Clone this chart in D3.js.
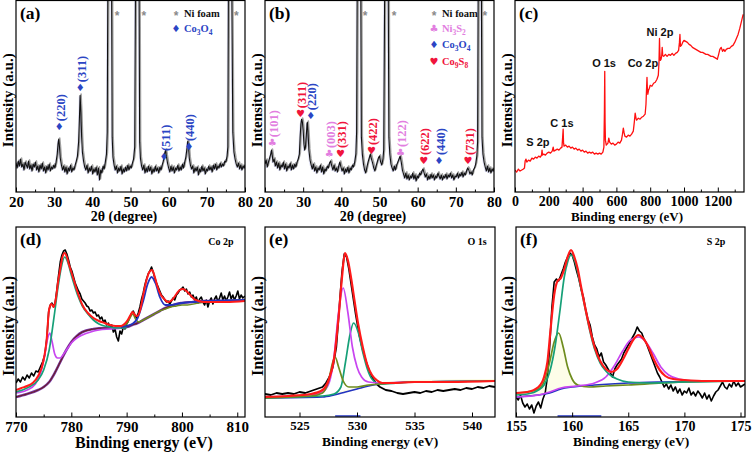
<!DOCTYPE html>
<html><head><meta charset="utf-8">
<script src="https://cdn.jsdelivr.net/npm/d3@7"></script>
<style>
body{margin:0;background:#fff}svg{display:block}
text{font-family:"Liberation Serif","Times New Roman","DejaVu Serif",serif;font-weight:bold}
text.sans{font-family:"Liberation Sans",Arial,"DejaVu Sans",sans-serif}
text.sym{font-family:"DejaVu Sans",sans-serif;font-weight:normal}
</style>
</head><body>
<svg id="c" width="756" height="453"></svg>
<script>
// ---------------- DATA ----------------
// (a) XRD of Co3O4 on Ni foam: [2theta, intensity a.u.]
const xrdA = [[20.0,29],[20.3,24],[20.6,31],[20.9,26],[21.2,33],[21.5,25],[21.8,28],[22.1,22],[22.4,30],[22.7,27],[23.0,24],[23.3,31],[23.6,23],[23.9,27],[24.2,21],[24.5,28],[24.8,25],[25.1,30],[25.4,22],[25.7,26],[26.0,20],[26.3,27],[26.6,23],[26.9,29],[27.2,21],[27.5,25],[27.8,19],[28.1,26],[28.4,22],[28.7,28],[29.0,21],[29.3,25],[29.6,23],[29.9,27],[30.2,24],[30.5,30],[30.8,38],[31.0,48],[31.2,53],[31.4,45],[31.6,34],[31.9,27],[32.2,22],[32.5,26],[32.8,20],[33.1,25],[33.4,18],[33.7,24],[34.0,21],[34.3,27],[34.6,20],[34.9,24],[35.2,22],[35.5,27],[35.8,31],[36.1,36],[36.4,50],[36.6,72],[36.8,97],[37.0,80],[37.2,55],[37.4,40],[37.7,31],[38.0,25],[38.3,22],[38.6,27],[38.9,19],[39.2,24],[39.5,21],[39.8,26],[40.1,18],[40.4,23],[40.7,20],[41.0,25],[41.3,17],[41.6,24],[41.9,12],[42.2,22],[42.5,19],[42.8,26],[43.1,23],[43.4,30],[43.7,38],[43.9,60],[44.05,200],[44.5,260],[45.05,200],[45.2,55],[45.4,35],[45.7,27],[46.0,22],[46.3,26],[46.6,19],[46.9,24],[47.2,21],[47.5,26],[47.8,18],[48.1,23],[48.4,20],[48.7,25],[49.0,21],[49.3,27],[49.6,22],[49.9,26],[50.2,24],[50.5,29],[50.8,33],[51.1,45],[51.3,200],[51.8,260],[52.25,200],[52.4,50],[52.6,34],[52.9,26],[53.2,22],[53.5,27],[53.8,19],[54.1,24],[54.4,20],[54.7,26],[55.0,21],[55.3,25],[55.6,18],[55.9,23],[56.2,20],[56.5,26],[56.8,21],[57.1,24],[57.4,19],[57.7,25],[58.0,22],[58.3,27],[58.6,31],[58.9,38],[59.2,42],[59.4,36],[59.7,29],[60.0,24],[60.3,20],[60.6,26],[60.9,21],[61.2,25],[61.5,19],[61.8,24],[62.1,22],[62.4,27],[62.7,21],[63.0,25],[63.3,22],[63.6,28],[63.9,24],[64.2,30],[64.5,35],[64.8,44],[65.0,51],[65.2,45],[65.4,34],[65.7,27],[66.0,23],[66.3,26],[66.6,19],[66.9,24],[67.2,21],[67.5,25],[67.8,17],[68.1,23],[68.4,20],[68.7,26],[69.0,21],[69.3,24],[69.6,18],[69.9,23],[70.2,21],[70.5,26],[70.8,22],[71.1,25],[71.4,20],[71.7,27],[72.0,23],[72.3,28],[72.6,22],[72.9,26],[73.2,24],[73.5,29],[73.8,25],[74.1,28],[74.4,26],[74.7,31],[75.0,30],[75.3,36],[75.5,45],[75.65,200],[76.4,260],[76.55,200],[76.8,60],[77.1,40],[77.4,33],[77.7,28],[78.0,25],[78.3,29],[78.6,23],[78.9,27],[79.2,22],[79.5,26],[79.8,24],[80.0,27]];
// (b) XRD after sulfidation
const xrdB = [[20.0,28],[20.3,32],[20.6,25],[20.9,30],[21.2,34],[21.5,38],[21.7,42],[21.9,37],[22.1,30],[22.4,33],[22.7,26],[23.0,30],[23.3,24],[23.6,29],[23.9,22],[24.2,27],[24.5,25],[24.8,30],[25.1,23],[25.4,28],[25.7,21],[26.0,26],[26.3,24],[26.6,29],[26.9,22],[27.2,27],[27.5,23],[27.8,28],[28.1,25],[28.4,30],[28.7,33],[29.0,38],[29.2,55],[29.4,68],[29.6,73],[29.8,70],[30.0,62],[30.2,48],[30.4,42],[30.6,45],[30.8,55],[31.0,68],[31.1,70],[31.3,58],[31.5,42],[31.8,32],[32.1,27],[32.4,23],[32.7,28],[33.0,21],[33.3,25],[33.6,19],[33.9,24],[34.2,22],[34.5,27],[34.8,20],[35.1,25],[35.4,18],[35.7,23],[36.0,21],[36.3,26],[36.6,24],[36.9,29],[37.2,31],[37.5,26],[37.8,22],[38.1,27],[38.4,21],[38.7,24],[39.0,20],[39.3,26],[39.6,30],[39.9,25],[40.2,21],[40.5,24],[40.8,18],[41.1,23],[41.4,20],[41.7,25],[42.0,19],[42.3,24],[42.6,22],[42.9,27],[43.2,25],[43.5,30],[43.8,38],[44.0,60],[44.15,200],[44.6,260],[45.1,200],[45.25,55],[45.5,38],[45.8,28],[46.1,22],[46.4,19],[46.7,25],[47.0,30],[47.3,34],[47.6,38],[47.9,33],[48.2,29],[48.5,24],[48.8,21],[49.1,26],[49.4,30],[49.7,34],[50.0,36],[50.3,30],[50.6,27],[50.9,33],[51.1,42],[51.35,200],[51.8,260],[52.3,200],[52.45,55],[52.7,38],[53.0,28],[53.3,24],[53.6,21],[53.9,26],[54.2,22],[54.5,27],[54.8,30],[55.1,33],[55.4,36],[55.7,30],[56.0,22],[56.3,18],[56.6,14],[56.9,19],[57.2,13],[57.5,17],[57.8,12],[58.1,16],[58.4,14],[58.7,19],[59.0,13],[59.3,17],[59.6,11],[59.9,16],[60.2,14],[60.5,19],[60.8,17],[61.1,21],[61.4,23],[61.7,19],[62.0,15],[62.3,18],[62.6,12],[62.9,16],[63.2,13],[63.5,18],[63.8,14],[64.1,17],[64.4,12],[64.7,16],[65.0,14],[65.3,19],[65.6,16],[65.9,13],[66.2,17],[66.5,12],[66.8,16],[67.1,14],[67.4,18],[67.7,13],[68.0,17],[68.3,15],[68.6,19],[68.9,14],[69.2,17],[69.5,12],[69.8,16],[70.1,15],[70.4,19],[70.7,14],[71.0,18],[71.3,16],[71.6,20],[71.9,15],[72.2,19],[72.5,17],[72.8,21],[73.1,24],[73.4,22],[73.7,18],[74.0,20],[74.3,17],[74.6,22],[74.9,24],[75.2,28],[75.5,36],[75.7,50],[75.85,200],[76.3,260],[76.7,200],[76.85,55],[77.1,38],[77.4,30],[77.7,25],[78.0,21],[78.3,26],[78.6,20],[78.9,24],[79.2,19],[79.5,23],[79.8,21],[80.0,24]];
const xrdTicks = [20,30,40,50,60,70,80];
const xrdMinor = [25,35,45,55,65,75];
const peaksA = [["(220)",31.3,66,"Co3O4"],["(311)",36.8,105,"Co3O4"],["(511)",58.8,36,"Co3O4"],["(440)",65.3,46,"Co3O4"]];
const peaksB = [["(101)",21.9,50,"Ni3S2"],["(311)",29.3,79,"Co9S8"],["(220)",32.0,77,"Co3O4"],["(003)",36.8,39,"Ni3S2"],["(331)",39.8,39,"Co9S8"],["(422)",47.9,42,"Co9S8"],["(122)",55.5,40,"Ni3S2"],["(622)",61.6,32,"Co9S8"],["(440)",65.6,32,"Co3O4"],["(731)",73.2,32,"Co9S8"]];
const niStarsA = [46.5,53.5,77.7];
const niStarsB = [46.2,53.8,77.6];
const legendA = ["Ni","Co3O4"];
const legendB = ["Ni","Ni3S2","Co3O4","Co9S8"];

// (c) XPS survey: [binding energy eV, intensity]
const survey = [[0,22],[10,20],[20,23],[30,21],[40,22],[50,23],[56,24],[60,31],[65,33],[70,30],[80,32],[90,31],[100,34],[110,33],[120,35],[130,34],[140,36],[150,35],[157,37],[160,42],[163,37],[170,38],[180,37],[190,39],[200,40],[210,39],[220,41],[226,45],[230,41],[240,42],[250,43],[260,42],[270,44],[278,45],[282,55],[285,63],[287,50],[290,46],[300,47],[310,45],[320,46],[330,44],[340,45],[350,43],[360,44],[370,42],[380,43],[390,41],[400,42],[410,40],[420,41],[430,39],[440,40],[450,39],[460,40],[470,38],[480,39],[490,38],[500,39],[510,38],[520,40],[526,45],[529,80],[531,121],[533,70],[535,52],[540,47],[550,49],[555,54],[560,50],[570,48],[580,49],[590,47],[600,48],[610,50],[620,49],[630,52],[636,58],[641,64],[645,60],[650,56],[660,55],[670,57],[680,56],[690,58],[700,61],[706,70],[711,79],[716,74],[720,72],[730,74],[740,73],[750,75],[760,76],[770,78],[775,88],[779,106],[781,115],[783,105],[786,98],[790,102],[795,104],[800,107],[810,106],[820,109],[830,110],[840,113],[848,117],[852,130],[855,154],[857,140],[860,132],[864,133],[868,136],[871,145],[874,137],[880,136],[890,138],[900,136],[910,138],[920,137],[930,139],[940,137],[950,139],[960,140],[968,142],[973,150],[976,158],[979,146],[985,147],[992,150],[1000,152],[1010,151],[1020,150],[1030,148],[1040,147],[1050,145],[1060,144],[1070,143],[1080,142],[1090,141],[1100,140],[1110,140],[1120,139],[1130,138],[1140,138],[1150,137],[1160,136],[1170,136],[1180,135],[1190,134],[1197,133],[1205,138],[1212,143],[1220,145],[1228,141],[1235,143],[1242,141],[1250,143],[1260,144],[1270,144],[1280,146],[1290,147],[1300,150],[1310,154],[1320,158],[1330,164],[1340,171],[1350,178]];
const surveyTicks = [0,200,400,600,800,1000,1200];
const surveyMinor = [100,300,500,700,900,1100,1300];
const surveyLabels = [["S 2p",136,50],["C 1s",278,69],["O 1s",527,129],["Co 2p",757,129],["Ni 2p",858,160]];

// (d) Co 2p
const co2pRaw = [[770.0,34],[770.4,38],[770.8,35],[771.2,40],[771.6,37],[772.0,42],[772.4,39],[772.8,44],[773.2,41],[773.6,46],[774.0,45],[774.4,50],[774.8,55],[775.2,62],[775.6,80],[775.9,105],[776.2,112],[776.5,114],[776.8,110],[777.1,115],[777.4,128],[777.7,142],[778.0,155],[778.3,162],[778.6,166],[778.9,167],[779.2,163],[779.5,157],[779.8,150],[780.1,146],[780.4,140],[780.7,134],[781.0,130],[781.3,126],[781.6,123],[781.9,118],[782.2,116],[782.5,114],[782.8,111],[783.1,110],[783.4,106],[783.7,107],[784.0,104],[784.3,105],[784.6,101],[784.9,102],[785.2,98],[785.5,100],[785.8,95],[786.1,97],[786.4,92],[786.7,94],[787.0,89],[787.3,92],[787.6,85],[787.9,88],[788.2,80],[788.5,76],[788.8,86],[789.1,83],[789.4,90],[789.7,88],[790.0,93],[790.3,96],[790.6,100],[790.9,104],[791.2,106],[791.5,102],[791.8,99],[792.1,104],[792.4,110],[792.7,118],[793.0,124],[793.3,132],[793.6,138],[793.9,143],[794.2,146],[794.5,150],[794.8,145],[795.1,139],[795.4,134],[795.7,130],[796.0,126],[796.3,122],[796.6,120],[796.9,117],[797.2,115],[797.5,116],[797.8,113],[798.1,116],[798.4,119],[798.7,117],[799.0,122],[799.3,124],[799.6,127],[799.9,128],[800.2,130],[800.5,126],[800.8,128],[801.1,123],[801.4,125],[801.7,120],[802.0,122],[802.3,117],[802.6,120],[802.9,114],[803.2,118],[803.5,120],[803.8,115],[804.1,112],[804.4,117],[804.7,110],[805.0,116],[805.3,119],[805.6,113],[805.9,118],[806.2,121],[806.5,115],[806.8,119],[807.1,124],[807.4,117],[807.7,121],[808.0,116],[808.3,120],[808.6,125],[808.9,118],[809.2,122],[809.5,117],[809.8,121],[810.1,126],[810.4,118],[810.7,122],[811.0,119],[811.4,121]];
const co2pFit = [[770,27],[771,29],[772,31],[773,34],[774,41],[775,57],[775.5,75],[776.0,108],[776.4,113],[776.8,110],[777.2,118],[777.6,135],[778.0,148],[778.4,160],[778.8,164],[779.2,160],[779.6,152],[780.0,145],[780.5,136],[781.0,127],[781.5,119],[782.0,112],[783.0,104],[784.0,99],[785.0,96],[786.0,94],[787.0,92],[788.0,91],[789.0,91],[789.6,93],[790.2,97],[790.7,102],[791.1,105],[791.5,102],[791.9,101],[792.4,106],[793.0,122],[793.6,137],[794.1,145],[794.6,147],[795.1,140],[795.6,130],[796.2,122],[796.8,118],[797.5,115],[798.2,117],[799.0,123],[799.6,127],[800.2,128],[800.8,126],[801.5,122],[802.2,118],[803.0,116],[804.0,115],[806.0,115],[808.0,115],[811.4,116]];
const co2pMain = [[770,25],[772,29],[774,37],[775,47],[776,67],[777,105],[777.6,130],[778.2,150],[778.8,160],[779.4,154],[780.0,142],[780.6,131],[781.2,121],[782.0,111],[783.0,103],[784.0,97],[785.0,93],[786.0,91],[787.0,90],[788.0,89],[789.0,89],[790.0,89]];
const co2pLow = [[770,24],[772,27],[773.5,33],[774.5,45],[775.2,62],[775.7,78],[776.1,84],[776.5,76],[777.0,63],[777.5,59],[778.0,59],[778.5,62],[779.0,66],[779.5,70],[780.0,74],[781.0,79],[782.0,82],[783.5,85],[785.0,87],[787.0,88],[789.0,89]];
const co2pBg = [[770,20],[772,23],[774,27],[775,30],[776,35],[777,44],[778,55],[779,66],[780,75],[781,81],[782,85],[784,88],[786,89],[788,89],[790,90],[791,92],[792,94],[793,97],[794,100],[795,103],[796,106],[797,109],[798,111],[799,113],[800,114],[802,115],[804,116],[807,116],[811.4,117]];
const co2pHigh = [[789,90],[790,91],[791,93],[792,99],[793,116],[793.8,133],[794.5,140],[795.2,134],[796,120],[797,112],[798,112],[799,113],[800,114],[802,115],[805,116],[811.4,117]];
const co2pSat = [[789,90],[790,93],[790.7,100],[791.1,103],[791.6,98],[792.2,95],[793,97],[794,100],[795,103],[796,106],[797,108],[798,110],[799,111],[800,112],[801,112],[803,114],[806,116],[811.4,117]];
const co2pTicks = [770,780,790,800,810];
const co2pMinor = [775,785,795,805];

// (e) O 1s
const o1sRaw = [[521.6,22],[522,23],[522.5,22],[523,24],[523.5,23],[524,24],[524.5,23],[525,25],[525.5,24],[526,26],[526.5,28],[527,30],[527.3,34],[527.6,40],[527.9,50],[528.2,70],[528.5,115],[528.7,145],[528.9,163],[529.1,160],[529.3,148],[529.6,125],[529.9,102],[530.2,82],[530.5,67],[530.8,55],[531.1,45],[531.4,38],[531.7,33],[532.0,30],[532.5,27],[533,26],[533.5,24],[534,23],[534.5,24],[535,25],[535.5,24],[536,26],[536.5,25],[537,27],[537.5,26],[538,27],[538.5,28],[539,27],[539.5,29],[540,28],[540.5,30],[541,29],[541.5,31],[542,30]];
const o1sFit = [[521.6,20],[524,21],[526,23],[527,27],[527.5,36],[528,58],[528.4,100],[528.7,140],[528.95,164],[529.2,157],[529.5,138],[529.8,115],[530.1,93],[530.5,70],[530.9,52],[531.3,42],[531.7,37],[532.2,34],[533,34],[535,35],[538,35],[542,36]];
const o1sLattice = [[521.6,19],[526,21],[527,24],[527.5,35],[527.9,55],[528.1,60],[528.4,50],[528.8,36],[529.3,30],[530,30],[531,32],[532,33],[535,35],[542,36]];
const o1sMid = [[521.6,20],[526,22],[527,25],[527.6,35],[528.0,60],[528.4,105],[528.8,129],[529.2,105],[529.6,70],[530.0,50],[530.4,40],[531,35],[532,34],[535,35],[542,36]];
const o1sHigh = [[521.6,19],[527,21],[528,23],[528.6,30],[529.0,55],[529.4,83],[529.7,94],[530.1,85],[530.5,65],[530.9,48],[531.3,38],[532,33],[535,35],[542,36]];
const o1sBg = [[521.6,19],[527,20],[528,22],[529,25],[530,28],[531,31],[532,33],[535,35],[542,36]];
const o1sFloor = [[528.1,1],[530.3,1]];
const o1sTicks = [525,530,535,540];

// (f) S 2p
const s2pRaw = [[155.0,20],[155.2,17],[155.4,22],[155.6,14],[155.8,10],[156.0,13],[156.2,8],[156.4,12],[156.6,4],[156.8,11],[157.0,15],[157.2,9],[157.4,18],[157.6,24],[157.8,40],[158.0,70],[158.2,110],[158.4,135],[158.6,138],[158.8,136],[159.0,142],[159.2,148],[159.4,155],[159.6,160],[159.8,164],[160.0,162],[160.2,155],[160.4,146],[160.6,138],[160.8,128],[161.0,120],[161.2,108],[161.4,98],[161.6,92],[161.8,80],[162.0,72],[162.2,68],[162.4,60],[162.6,64],[162.8,55],[163.0,52],[163.2,48],[163.4,44],[163.6,40],[163.8,48],[164.0,52],[164.2,55],[164.4,58],[164.6,64],[164.8,68],[165.0,72],[165.2,76],[165.4,80],[165.6,84],[165.8,90],[166.0,86],[166.2,84],[166.4,78],[166.6,74],[166.8,68],[167.0,62],[167.2,56],[167.4,50],[167.6,44],[167.8,40],[168.0,35],[168.2,30],[168.4,33],[168.6,28],[168.8,32],[169.0,26],[169.2,30],[169.4,24],[169.6,28],[169.8,22],[170.0,26],[170.2,24],[170.4,29],[170.6,22],[170.8,25],[171.0,21],[171.2,26],[171.4,23],[171.6,19],[171.8,24],[172.0,18],[172.2,22],[172.4,16],[172.6,21],[172.8,25],[173.0,27],[173.2,31],[173.4,35],[173.6,30],[173.8,28],[174.0,33],[174.2,30],[174.4,36],[174.6,31],[174.8,34],[175.0,30],[175.4,33]];
const s2pFit = [[155,24],[156,25],[157,30],[157.5,40],[157.8,55],[158.1,90],[158.4,122],[158.7,136],[159.0,139],[159.3,148],[159.6,160],[159.9,167],[160.2,160],[160.5,148],[160.8,130],[161.1,113],[161.5,92],[162.0,70],[162.5,56],[163.0,48],[163.5,45],[164.0,48],[164.5,57],[165.0,68],[165.5,78],[165.9,82],[166.3,79],[166.8,70],[167.3,57],[167.8,47],[168.3,41],[169,38],[170,37],[172,36],[175.4,36]];
const s2pMain = [[155,22],[156,23],[157,27],[157.5,32],[158,45],[158.5,72],[158.9,105],[159.3,140],[159.6,155],[159.9,162],[160.2,157],[160.5,145],[160.8,128],[161.1,112],[161.5,90],[162.0,68],[162.5,54],[163.0,46],[163.5,41],[164.0,38],[165,35],[167,34],[170,35],[175.4,36]];
const s2pLow = [[155,24],[156,25],[157,28],[157.6,38],[158.0,55],[158.4,75],[158.8,84],[159.2,70],[159.6,50],[160.0,38],[160.5,32],[161.5,30],[163,31],[165,32],[168,34],[175.4,36]];
const s2pHigh = [[155,20],[157,22],[158,25],[159,29],[160.5,31],[162,34],[163,40],[163.8,52],[164.5,66],[165.2,77],[165.9,80],[166.5,76],[167.2,64],[167.9,50],[168.6,42],[169.5,38],[171,36],[175.4,36]];
const s2pBg = [[155,20],[156,21],[157,22],[158,24],[159,28],[160,30],[162,32],[165,34],[168,35],[175.4,36]];
const s2pFloor = [[158.7,1],[162.6,1]];
const s2pTicks = [155,160,165,170,175];

// ---------------- DRAWING ----------------
const svg = d3.select("#c");
const phase = {
  Ni:{glyph:"*",color:"#8a8a8a",name:[["Ni foam",0]],black:true},
  Ni3S2:{glyph:"\u2663",color:"#e27ee0",name:[["Ni",0],["3",1],["S",0],["2",1]]},
  Co3O4:{glyph:"\u2666",color:"#2b45c4",name:[["Co",0],["3",1],["O",0],["4",1]]},
  Co9S8:{glyph:"\u2665",color:"#f0143c",name:[["Co",0],["9",1],["S",0],["8",1]]}
};

function panel(o){
  const x = d3.scaleLinear().domain(o.xd).range([o.l,o.r]);
  const y = d3.scaleLinear().domain(o.yd).range([o.b,o.t]);
  const g = svg.append("g");
  const cid = "clip_"+o.id;
  svg.append("clipPath").attr("id",cid).append("rect")
    .attr("x",o.l).attr("y",o.t).attr("width",o.r-o.l).attr("height",o.b-o.t);
  const plot = g.append("g").attr("clip-path",`url(#${cid})`);
  if(o.minor){
    g.append("g").attr("transform",`translate(0,${o.b})`)
      .call(d3.axisBottom(x).tickValues(o.minor).tickSize(-2.5).tickFormat(""))
      .call(a=>a.select(".domain").remove());
  }
  g.append("g").attr("transform",`translate(0,${o.b})`)
    .call(d3.axisBottom(x).tickValues(o.ticks).tickSize(-4.5).tickPadding(o.pad||4).tickFormat(d3.format("d")))
    .call(a=>{a.select(".domain").remove();
      a.selectAll("text").style("font-size",o.tfs+"px").attr("fill","#000");});
  g.append("rect").attr("x",o.l).attr("y",o.t).attr("width",o.r-o.l).attr("height",o.b-o.t)
    .attr("fill","none").attr("stroke","#000").attr("stroke-width",1.2);
  g.append("text").attr("x",o.xtx).attr("y",o.xty).attr("text-anchor","middle")
    .style("font-size",o.xfs+"px").text(o.xtitle);
  g.append("text").attr("transform",`translate(${o.ytx},${(o.t+o.b)/2+4}) rotate(-90)`)
    .attr("text-anchor","middle").attr("dominant-baseline","central")
    .style("font-size",(o.yfs||16)+"px").text("Intensity (a.u.)");
  g.append("text").attr("x",o.l+4).attr("y",o.t+18).style("font-size","17.5px").text(o.tag);
  const line = (data,color,w,curve)=>plot.append("path").datum(data)
    .attr("d",d3.line().x(d=>x(d[0])).y(d=>y(d[1])).curve(curve||d3.curveLinear))
    .attr("fill","none").attr("stroke",color).attr("stroke-width",w).attr("stroke-linejoin","round");
  return {x,y,g,plot,line};
}

function formula(sel, parts, fs){
  parts.forEach((p,i)=>{
    const t = sel.append("tspan").text(p[0]);
    if(p[1]){ t.style("font-size",(fs*0.68)+"px").attr("dy",3); }
    else if(i>0 && parts[i-1][1]){ t.attr("dy",-3); }
  });
}

function xrdPanel(o, data, peaks, stars, legend){
  const P = panel(o);
  P.line(data,"#a0a0a0",1.5).attr("transform","translate(1,-1.2)");
  P.line(data,"#6f74c8",0.6).attr("transform","translate(-0.8,1)").attr("opacity",0.4);
  P.line(data,"#111",1.1);
  stars.forEach(s=>{
    P.g.append("text").attr("class","sans").attr("x",P.x(s)).attr("y",P.y(172)).attr("text-anchor","middle")
      .style("font-size","12px").attr("fill","#8a8a8a").text("*");
  });
  peaks.forEach(p=>{
    const ph = phase[p[3]];
    const px = P.x(p[1]), py = P.y(p[2]);
    P.g.append("text").attr("class","sym").attr("x",px).attr("y",py).attr("text-anchor","middle").attr("dominant-baseline","central")
      .style("font-size","10px").attr("fill",ph.color).text(ph.glyph);
    P.g.append("text").attr("transform",`translate(${px+1.5},${py-5}) rotate(-90)`)
      .attr("text-anchor","start").attr("dominant-baseline","central")
      .style("font-size","12.5px").attr("fill",ph.color).text(p[0]);
  });
  legend.forEach((k,i)=>{
    const ph = phase[k];
    const ly = o.legY[i];
    P.g.append("text").attr("class",k==="Ni"?"sans":"sym").attr("x",o.legX).attr("y",ly).attr("text-anchor","middle").attr("dominant-baseline","central")
      .style("font-size",(k==="Ni"?12:10)+"px").attr("dy",k==="Ni"?3:0).attr("fill",ph.color).text(ph.glyph);
    const t = P.g.append("text").attr("x",o.legX+8).attr("y",ly+4)
      .style("font-size","10.5px").attr("fill",ph.black?"#111":ph.color);
    formula(t, ph.name, 11);
  });
  return P;
}

// (a)
xrdPanel({id:"a",l:16,r:245,t:0.5,b:192,xd:[20,80],yd:[0,192],ticks:xrdTicks,minor:xrdMinor,tfs:15,
  xtitle:"2\u03b8 (degree)",xtx:124,xty:221,xfs:14,ytx:8,yfs:15,tag:"(a)",legX:176,legY:[13,28]},
  xrdA,peaksA,niStarsA,legendA);
// (b)
xrdPanel({id:"b",l:265,r:494,t:0.5,b:192,xd:[20,80],yd:[0,192],ticks:xrdTicks,minor:xrdMinor,tfs:15,
  xtitle:"2\u03b8 (degree)",xtx:373,xty:221,xfs:14,ytx:257,yfs:15,tag:"(b)",legX:434,legY:[13,28,44,61]},
  xrdB,peaksB,niStarsB,legendB);
// (c)
{
  const P = panel({id:"c",l:515,r:744,t:0.5,b:192,xd:[0,1355],yd:[0,192],ticks:surveyTicks,minor:surveyMinor,tfs:14,
    xtitle:"Binding energy (eV)",xtx:627,xty:221,xfs:13,ytx:507,yfs:15,tag:"(c)"});
  P.line(survey,"#ff1010",1.3);
  surveyLabels.forEach(s=>{
    P.g.append("text").attr("class","sans").attr("x",P.x(s[1])).attr("y",P.y(s[2])).attr("text-anchor","middle").attr("dominant-baseline","central")
      .style("font-size","11px").attr("fill","#111").text(s[0]);
  });
}
const C_RED="#ff1a1a", C_TEAL="#16a078", C_MAG="#c845f0", C_OLIVE="#6e8c1e", C_BLUE="#2233c0", C_BG="#6a1f2a";
const smooth = d3.curveMonotoneX;
function xpsTitle(P,o,txt,xpx){
  P.g.append("text").attr("x",xpx).attr("y",o.t+18).attr("text-anchor","middle")
    .style("font-size","10px").text(txt);
}
// (d)
{
  const o = {id:"d",l:16,r:245,t:227,b:417,xd:[770,811.4],yd:[0,190],ticks:co2pTicks,minor:co2pMinor,tfs:15,
    xtitle:"Binding energy (eV)",xtx:144,xty:448,xfs:16,ytx:8,tag:"(d)"};
  const P = panel(o);
  P.line(co2pRaw,"#000",1.6);
  P.line(co2pBg,"#7a3aa8",2.6,smooth);
  P.line(co2pBg,C_BG,1.2,smooth);
  P.line(co2pLow,C_MAG,1.7,smooth);
  P.line(co2pMain,C_TEAL,1.7,smooth);
  P.line(co2pSat,C_OLIVE,1.5,smooth);
  P.line(co2pHigh,C_BLUE,1.8,smooth);
  P.line(co2pFit,C_RED,2.0,smooth);
  xpsTitle(P,o,"Co 2p",221);
}
// (e)
{
  const o = {id:"e",l:265,r:495,t:227,b:417,xd:[522,542],yd:[0,190],ticks:o1sTicks,tfs:13,
    xtitle:"Binding energy (eV)",xtx:380,xty:446,xfs:13.5,ytx:257,tag:"(e)"};
  const P = panel(o);
  P.plot.append("path").datum(o1sBg).attr("fill","#fcfce2")
    .attr("d",d3.area().x(d=>P.x(d[0])).y0(d=>P.y(d[1])).y1(d=>P.y(d[1]+2)).curve(smooth));
  P.line(o1sFloor,C_BLUE,1.5);
  P.line(o1sRaw,"#000",1.8);
  P.line(o1sBg,C_BLUE,1.6,smooth);
  P.line(o1sHigh,C_TEAL,1.7,smooth);
  P.line(o1sMid,C_MAG,1.7,smooth);
  P.line(o1sLattice,C_OLIVE,1.7,smooth);
  P.line(o1sFit,C_RED,2.2,smooth);
  xpsTitle(P,o,"O 1s",477);
}
// (f)
{
  const o = {id:"f",l:516,r:745,t:227,b:417,xd:[155,175.4],yd:[0,190],ticks:s2pTicks,tfs:14,
    xtitle:"Binding energy (eV)",xtx:631,xty:446,xfs:13.5,ytx:507,tag:"(f)"};
  const P = panel(o);
  const bgAt = d3.scaleLinear().domain(s2pBg.map(d=>d[0])).range(s2pBg.map(d=>d[1]));
  P.plot.append("path").datum(s2pLow).attr("fill","#fdfde8")
    .attr("d",d3.area().x(d=>P.x(d[0])).y0(d=>P.y(bgAt(d[0]))).y1(d=>P.y(d[1])).curve(smooth));
  P.line(s2pFloor,C_BLUE,1.5);
  P.line(s2pRaw,"#000",1.6);
  P.line(s2pBg,C_BLUE,1.6,smooth);
  P.line(s2pLow,C_OLIVE,1.7,smooth);
  P.line(s2pHigh,C_MAG,1.7,smooth);
  P.line(s2pMain,C_TEAL,1.7,smooth);
  P.line(s2pFit,C_RED,2.2,smooth);
  xpsTitle(P,o,"S 2p",716);
}
</script>
</body></html>
